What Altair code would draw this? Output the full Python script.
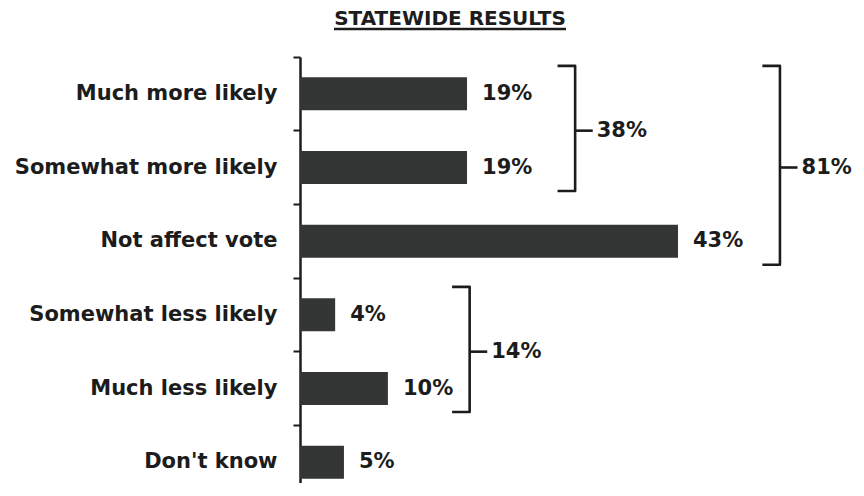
import altair as alt
import pandas as pd

# ---- data ----
categories = ["Much more likely", "Somewhat more likely", "Not affect vote",
              "Somewhat less likely", "Much less likely", "Don't know"]
values = [19, 19, 43, 4, 10, 5]
value_labels = ["19%", "19%", "43%", "4%", "10%", "5%"]

bracket_labels = ["38%", "81%", "14%"]
bracket_members = [
    ["Much more likely", "Somewhat more likely"],
    ["Much more likely", "Somewhat more likely", "Not affect vote"],
    ["Somewhat less likely", "Much less likely"],
]
title_text = "STATEWIDE RESULTS"

# ---- layout / style constants ----
FONT = "DejaVu Sans"
INK = "#1c1c1c"
BAR = "#333634"
W, H = 545, 475
BAND_TOP, BAND_BOTTOM = 49, 491   # px range spanned by the six category bands
X_MAX = 62                # % at right edge of plot
bracket_gap = [12.3, 11.6, 9.3]   # % right of the longest bar in each group
HOOK = 2.0                # % length of bracket hooks
TICK = 2.0                # % length of bracket middle tick
TOP_F, BOT_F = 0.12, 0.82  # fraction of band where bracket starts / ends

bars_df = pd.DataFrame({"cat": categories, "val": values, "lab": value_labels})

# bracket geometry derived from group membership
path_rows, tick_rows = [], []
for b, (lab, mem, gap) in enumerate(zip(bracket_labels, bracket_members, bracket_gap)):
    idx = [categories.index(m) for m in mem]
    xb = max(values[i] for i in idx) + gap
    top = min(idx) + TOP_F
    bot = max(idx) + BOT_F
    mid = (min(idx) + max(idx) + 1) / 2
    pts = [(xb - HOOK, top), (xb, top), (xb, bot), (xb - HOOK, bot)]
    for k, (px, py) in enumerate(pts):
        path_rows.append({"b": lab, "k": k, "x": px, "y": py})
    tick_rows.append({"b": lab, "x": xb, "x2": xb + TICK, "y": mid})
path_df = pd.DataFrame(path_rows)
tick_df = pd.DataFrame(tick_rows)

xscale = alt.Scale(domain=[0, X_MAX], nice=False, zero=True)
yband = alt.Scale(domain=categories, range=[BAND_TOP, BAND_BOTTOM],
                  paddingInner=0, paddingOuter=0)
yq = alt.Scale(domain=[0, len(categories)], range=[BAND_TOP, BAND_BOTTOM],
               nice=False, zero=False)

yaxis = alt.Axis(bandPosition=0, domainColor=INK, domainWidth=2.5,
                 tickColor=INK, tickWidth=2, tickSize=7, grid=False,
                 labelFont=FONT, labelFontSize=21, labelFontWeight="bold",
                 labelColor=INK, labelPadding=16, labelLimit=400, title=None)

bars = alt.Chart(bars_df).mark_bar(color=BAR, size=33).encode(
    x=alt.X("val:Q", scale=xscale, axis=None),
    y=alt.Y("cat:N", scale=yband, sort=categories, title=None, axis=yaxis),
)

vlabels = alt.Chart(bars_df).mark_text(
    align="left", baseline="middle", dx=15, font=FONT, fontSize=21,
    fontWeight="bold", color=INK,
).encode(
    x=alt.X("val:Q", scale=xscale, axis=None),
    y=alt.Y("cat:N", scale=yband, sort=categories, title=None, axis=yaxis),
    text="lab:N",
)

band_layer = alt.layer(bars, vlabels)

brk = alt.Chart(path_df).mark_line(color=INK, strokeWidth=2.6, strokeJoin="round").encode(
    x=alt.X("x:Q", scale=xscale, axis=None),
    y=alt.Y("y:Q", scale=yq, axis=None),
    detail="b:N",
    order="k:Q",
)

bticks = alt.Chart(tick_df).mark_rule(color=INK, strokeWidth=2.6).encode(
    x=alt.X("x:Q", scale=xscale, axis=None),
    x2="x2:Q",
    y=alt.Y("y:Q", scale=yq, axis=None),
)

blabels = alt.Chart(tick_df).mark_text(
    align="left", baseline="middle", dx=4, font=FONT, fontSize=21,
    fontWeight="bold", color=INK,
).encode(
    x=alt.X("x2:Q", scale=xscale, axis=None),
    y=alt.Y("y:Q", scale=yq, axis=None),
    text="b:N",
)

title_df = pd.DataFrame({"t": [title_text]})
title = alt.Chart(title_df).mark_text(
    align="center", baseline="alphabetic", font=FONT, fontSize=20,
    fontWeight="bold", color=INK,
).encode(x=alt.value(150), y=alt.value(17), text="t:N")

underline = alt.Chart(title_df).mark_rule(color=INK, strokeWidth=2.5).encode(
    x=alt.value(34), x2=alt.value(266), y=alt.value(21),
)

bracket_layer = alt.layer(brk, bticks, blabels, title, underline)

chart = alt.layer(band_layer, bracket_layer).resolve_scale(y="independent").properties(
    width=W, height=H,
    autosize=alt.AutoSizeParams(type="none"),
    padding={"left": 292, "top": 0, "right": 11, "bottom": 0},
).configure(background="white").configure_view(stroke=None)

chart.save("out.html", embed_options={"renderer": "svg", "actions": False})
